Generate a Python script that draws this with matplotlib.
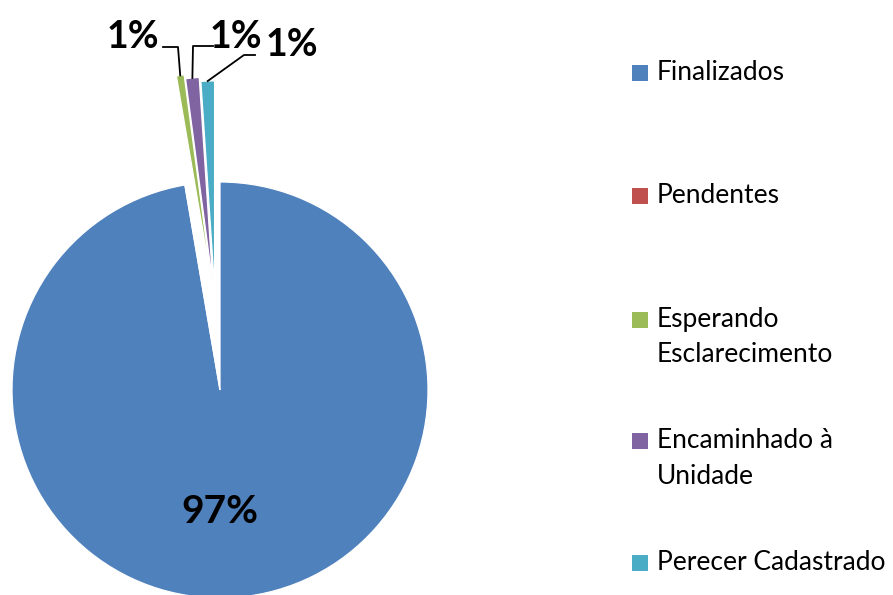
import numpy as np
import matplotlib.pyplot as plt
from matplotlib.patches import Rectangle

# situação dos processos
categorias = ["Finalizados", "Pendentes", "Esperando\nEsclarecimento",
              "Encaminhado à\nUnidade", "Perecer Cadastrado"]
valores = [97.3, 0.0, 0.6, 1.05, 1.05]
rotulos = ["97%", "", "1%", "1%", "1%"]
cores = ["#4F81BD", "#C0504D", "#9BBB59", "#8064A2", "#4BACC6"]

# deslocamento (x, y) das fatias destacadas, em raios
destaque = {2: (-0.041, 0.524), 3: (-0.034, 0.505), 4: (-0.026, 0.486)}

plt.rcParams["font.family"] = ["Lato", "DejaVu Sans"]

fig = plt.figure(figsize=(8.93, 5.95), dpi=100)
ax = fig.add_axes([0, 0, 440 / 893, 1])

fatias, _ = ax.pie(valores, colors=cores, startangle=90, counterclock=False,
                   wedgeprops=dict(edgecolor="white", linewidth=0.9))

for i, centro in destaque.items():
    fatias[i].set_center(centro)

ax.set_xlim(-220 / 208, 220 / 208)
ax.set_ylim(-205 / 208, 390 / 208)
ax.set_aspect("equal")
ax.axis("off")

# rótulo da fatia grande
ax.text(0, -0.585, rotulos[0], ha="center", va="center",
        fontsize=28, fontweight="bold")


def topo(fatia):
    # ponto externo no meio do arco da fatia
    ang = np.deg2rad((fatia.theta1 + fatia.theta2) / 2)
    cx, cy = fatia.center
    return cx + fatia.r * np.cos(ang), cy + fatia.r * np.sin(ang)


def px(x, y):
    return (x - 220) / 208, (390 - y) / 208


# rótulos das fatias pequenas com linhas de chamada
posicoes = {2: ((133, 37), [(163, 47), (178, 47)]),
            3: ((236, 37), [(213, 46), (193, 46)]),
            4: ((292, 45), [(255, 55), (244, 55)])}
for i, (pos_txt, cotovelo) in posicoes.items():
    tx, ty = px(*pos_txt)
    ax.text(tx, ty, rotulos[i], ha="center", va="center",
            fontsize=27, fontweight="bold")
    pts = [px(*p) for p in cotovelo] + [topo(fatias[i])]
    xs, ys = zip(*pts)
    ax.plot(xs, ys, color="black", linewidth=1.3, clip_on=False)

# legenda
y_itens = [73, 196, 320, 441, 563]
for cat, cor, y in zip(categorias, cores, y_itens):
    fig.patches.append(Rectangle((632 / 893, 1 - (y + 8) / 595), 16 / 893, 16 / 595,
                                 facecolor=cor, edgecolor="none",
                                 transform=fig.transFigure))
    linhas = cat.split("\n")
    for k, linha in enumerate(linhas):
        fig.text(657 / 893, 1 - (y + 35 * k) / 595, linha, ha="left", va="center",
                 fontsize=19)

fig.savefig("out.png", dpi=100)
